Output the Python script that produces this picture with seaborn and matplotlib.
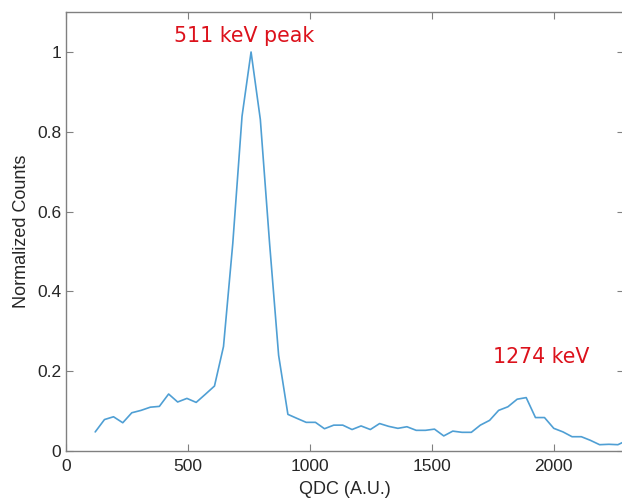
import matplotlib
matplotlib.use("Agg")
import matplotlib.pyplot as plt
import seaborn as sns
import pandas as pd

qdc = [120, 158, 195, 233, 270, 308, 346, 383, 421, 458, 496, 534, 571, 609, 646,
       684, 722, 759, 797, 835, 872, 910, 947, 985, 1023, 1060, 1098, 1135, 1173,
       1210, 1248, 1286, 1323, 1361, 1398, 1436, 1474, 1511, 1549, 1586, 1624, 1662,
       1699, 1737, 1774, 1812, 1850, 1887, 1925, 1962, 2000, 2038, 2075, 2113, 2150,
       2188, 2226, 2263, 2301]
counts = [0.048, 0.079, 0.086, 0.071, 0.096, 0.102, 0.110, 0.112, 0.143, 0.123,
          0.132, 0.122, 0.142, 0.163, 0.262, 0.52, 0.839, 1.0, 0.831, 0.52, 0.24,
          0.092, 0.082, 0.072, 0.072, 0.056, 0.065, 0.065, 0.054, 0.063, 0.054,
          0.069, 0.062, 0.057, 0.061, 0.052, 0.052, 0.055, 0.038, 0.050, 0.047,
          0.047, 0.065, 0.077, 0.102, 0.111, 0.130, 0.134, 0.084, 0.084, 0.057,
          0.048, 0.036, 0.036, 0.027, 0.016, 0.017, 0.016, 0.027]
xticks = [0, 500, 1000, 1500, 2000]
yticks = [0, 0.2, 0.4, 0.6, 0.8, 1]
ytick_labels = ["0", "0.2", "0.4", "0.6", "0.8", "1"]
annotations = [("511 keV peak", 729, 1.04), ("1274 keV", 1949, 0.235)]

df = pd.DataFrame({"QDC": qdc, "Counts": counts})

sns.set_style("white")
plt.rcParams["font.family"] = ["Liberation Sans", "DejaVu Sans"]

fig = plt.figure(figsize=(6.22, 5.04), dpi=100)
ax = fig.add_axes([0.106, 0.105, 0.898, 0.871])
sns.lineplot(data=df, x="QDC", y="Counts", ax=ax, color="#4f9fd4", linewidth=1.2)

ax.set_xlim(0, 2290)
ax.set_ylim(0, 1.1)
ax.set_xticks(xticks)
ax.set_xticklabels([str(t) for t in xticks])
ax.set_yticks(yticks)
ax.set_yticklabels(ytick_labels)
ax.tick_params(direction="in", length=5, width=0.8, colors="#808080",
               labelcolor="#262626", labelsize=12.5, top=True, right=True,
               bottom=True, left=True)
ax.tick_params(axis="x", pad=6)
for s in ax.spines.values():
    s.set_visible(True)
    s.set_color("#808080")
    s.set_linewidth(1.0)

ax.set_xlabel("QDC (A.U.)", fontsize=13, color="#262626", labelpad=5)
ax.set_ylabel("Normalized Counts", fontsize=13, color="#262626", labelpad=5)

for txt, xv, yv in annotations:
    ax.text(xv, yv, txt, color="#dc121c", fontsize=14.8, ha="center",
            va="center", family=["DejaVu Sans"])

fig.savefig("out.png", dpi=100)
